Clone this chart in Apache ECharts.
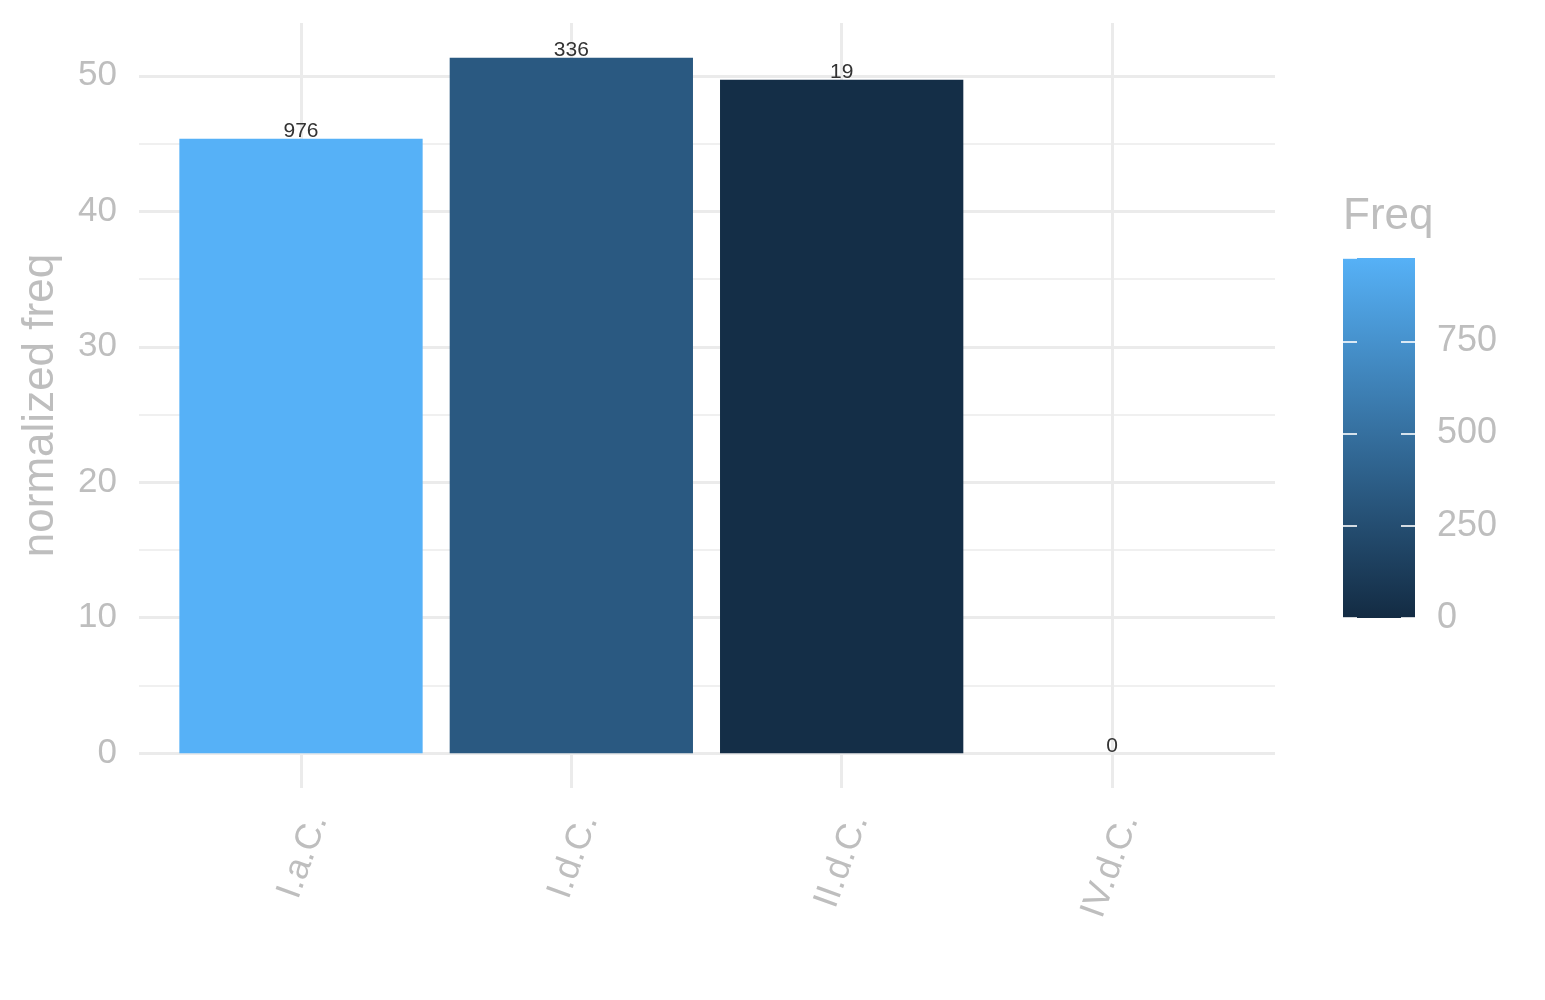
<!DOCTYPE html>
<html>
<head>
<meta charset="utf-8">
<script src="https://cdn.jsdelivr.net/npm/echarts@6/dist/echarts.min.js"></script>
<style>
  html, body { margin: 0; padding: 0; background: #fff; }
  #contain { width: 1545px; height: 1000px; }
</style>
</head>
<body>
<div id="contain"></div>
<script>
// data
var categories = ['I.a.C.', 'I.d.C.', 'II.d.C.', 'IV.d.C.'];
var normFreq = [45.35, 51.33, 49.7, 0];     // bar heights (normalized freq)
var freq = [976, 336, 19, 0];               // label + fill value
var yTicks = [0, 10, 20, 30, 40, 50];
var freqTicks = [0, 250, 500, 750];

var grey = '#BEBEBE';
var font = 'Liberation Sans';

// ggplot-like 5% expansion of the y range
var maxY = Math.max.apply(null, normFreq);
var pad = maxY * 0.05;
var yMin = -pad, yMax = maxY + pad;
var panelTop = 23, panelBottom = 788;
var ppu = (panelBottom - panelTop) / (yMax - yMin);
var y0px = panelBottom - (0 - yMin) * ppu;
var yTopTick = yTicks[yTicks.length - 1];
var yTopPx = y0px - yTopTick * ppu;
var maxFreq = Math.max.apply(null, freq);

var barData = categories.map(function (c, i) { return [i, normFreq[i], freq[i]]; });

var myChart = echarts.init(document.getElementById('contain'));

var option = {
    backgroundColor: '#fff',
    animation: false,
    textStyle: { fontFamily: font },
    title: {
        text: 'Freq',
        left: 1343, top: 195, padding: 0,
        textStyle: { color: grey, fontSize: 44, fontWeight: 'normal', fontFamily: font }
    },
    grid: [
        // horizontal grid lines + y labels
        { left: 139, right: 1545 - 1275, top: yTopPx, bottom: 1000 - y0px },
        // bars, vertical grid lines, x labels
        { left: 301, right: 1545 - 1112, top: panelTop, bottom: 1000 - panelBottom },
        // colour bar
        { left: 1343, width: 72, top: 258, height: 360 }
    ],
    visualMap: {
        show: false,
        type: 'continuous',
        seriesIndex: 0,
        dimension: 2,
        min: 0,
        max: maxFreq,
        inRange: { color: ['#132B43', '#56B1F7'] }
    },
    xAxis: [
        { gridIndex: 0, type: 'value', show: false },
        {
            gridIndex: 1,
            type: 'category',
            data: categories,
            boundaryGap: false,
            axisLine: { show: false },
            axisTick: { show: false },
            splitLine: { show: true, lineStyle: { color: '#EBEBEB', width: 3 } },
            axisLabel: {
                rotate: 70, color: grey, fontSize: 36, margin: 22,
                verticalAlign: 'top', fontFamily: font
            }
        },
        { gridIndex: 2, type: 'category', data: ['Freq'], show: false }
    ],
    yAxis: [
        {
            gridIndex: 0,
            type: 'value',
            min: yTicks[0], max: yTopTick, interval: yTicks[1] - yTicks[0],
            axisLine: { show: false },
            axisTick: { show: false },
            axisLabel: { color: grey, fontSize: 35, margin: 22, fontFamily: font },
            splitLine: { show: true, lineStyle: { color: '#EBEBEB', width: 3 } },
            minorTick: { show: false, splitNumber: 2 },
            minorSplitLine: { show: true, lineStyle: { color: '#F0F0F0', width: 2 } }
        },
        {
            gridIndex: 1,
            type: 'value',
            min: yMin, max: yMax,
            axisLine: { show: false },
            axisTick: { show: false },
            axisLabel: { show: false },
            splitLine: { show: false },
            name: 'normalized freq',
            nameLocation: 'middle',
            nameGap: 238,
            nameTextStyle: { color: grey, fontSize: 44, fontFamily: font }
        },
        {
            gridIndex: 2,
            type: 'value',
            position: 'right',
            min: 0, max: maxFreq, interval: freqTicks[1] - freqTicks[0],
            z: 5,
            axisLine: { show: false },
            axisTick: { show: true, inside: true, length: 14, lineStyle: { color: '#fff', width: 2, opacity: 0.8 } },
            axisLabel: { color: grey, fontSize: 36, margin: 22, showMaxLabel: false, fontFamily: font },
            splitLine: { show: false }
        },
        {
            gridIndex: 2,
            type: 'value',
            position: 'left',
            min: 0, max: maxFreq, interval: freqTicks[1] - freqTicks[0],
            z: 5,
            axisLine: { show: false },
            axisTick: { show: true, inside: true, length: 14, lineStyle: { color: '#fff', width: 2, opacity: 0.8 } },
            axisLabel: { show: false },
            splitLine: { show: false }
        }
    ],
    series: [
        {
            type: 'bar',
            xAxisIndex: 1,
            yAxisIndex: 1,
            data: barData,
            encode: { x: 0, y: 1 },
            barWidth: '90%',
            clip: false,
            label: {
                show: true,
                position: 'top',
                distance: -3,
                color: '#333',
                fontSize: 21,
                fontFamily: font,
                formatter: function (p) { return p.value[2]; }
            }
        },
        {
            type: 'bar',
            xAxisIndex: 2,
            yAxisIndex: 2,
            data: [maxFreq],
            barWidth: '100%',
            silent: true,
            itemStyle: {
                color: new echarts.graphic.LinearGradient(0, 0, 0, 1, [
                    { offset: 0, color: '#56B1F7' },
                    { offset: 1, color: '#132B43' }
                ])
            }
        }
    ]
};

myChart.setOption(option);
</script>
</body>
</html>
